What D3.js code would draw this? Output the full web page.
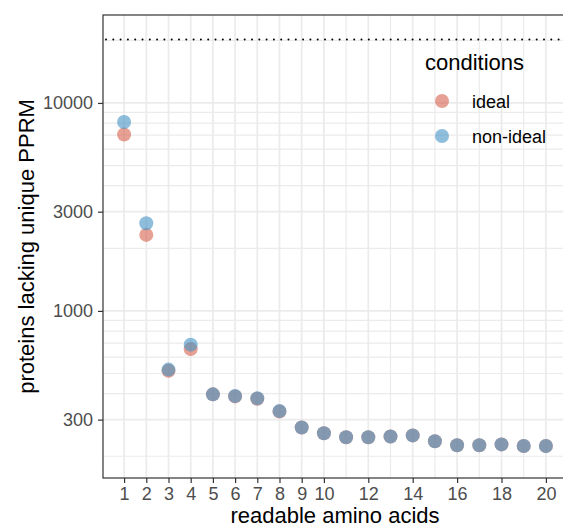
<!DOCTYPE html>
<html><head><meta charset="utf-8">
<script src="https://cdn.jsdelivr.net/npm/d3@7"></script>
<style>body{margin:0;background:#fff}svg{display:block;font-family:"Liberation Sans",Arial,Helvetica,sans-serif}</style>
</head><body><svg id="c" width="563" height="529"></svg>
<script>
const aminoAcids = [1,2,3,4,5,6,7,8,9,10,11,12,13,14,15,16,17,18,19,20];
const idealValues = [7050,2320,515,655,397,388,378,328,275,258,247,247,249,252,236,226,226,228,224,224];
const nonIdealValues = [8100,2640,522,688,397,390,380,330,275,258,247,247,249,252,236,226,226,228,224,224];
const totalProteins = 20200;
const xTickLabels = [1,2,3,4,5,6,7,8,9,10,12,14,16,18,20];
const yTickLabels = [300,1000,3000,10000];
const yMinorGrid = [200,400,500,600,700,800,900,2000,4000,5000,6000,7000,8000,9000,20000];
const conditions = ["ideal","non-ideal"];
const colors = {"ideal":"#D6604D","non-ideal":"#4393C3"};

const svg = d3.select("#c");
const L=103, R=567, T=15, B=478;
const x = d3.scaleLinear().domain([0.05,20.95]).range([L,R]);
const y = d3.scaleLog().domain([157.2,26480]).range([B,T]);

const g = svg.append("g");
g.selectAll(".hm").data(yMinorGrid).join("line")
  .attr("x1",L).attr("x2",R).attr("y1",d=>y(d)).attr("y2",d=>y(d))
  .attr("stroke","#EBEBEB").attr("stroke-width",1.2);
g.selectAll(".hM").data(yTickLabels).join("line")
  .attr("x1",L).attr("x2",R).attr("y1",d=>y(d)).attr("y2",d=>y(d))
  .attr("stroke","#EBEBEB").attr("stroke-width",1.7);
g.selectAll(".v").data(aminoAcids).join("line")
  .attr("y1",T).attr("y2",B).attr("x1",d=>x(d)).attr("x2",d=>x(d))
  .attr("stroke","#EBEBEB").attr("stroke-width",d=>xTickLabels.includes(d)?1.7:1.2);

g.append("line").attr("x1",L+3).attr("x2",R).attr("y1",y(totalProteins)).attr("y2",y(totalProteins))
  .attr("stroke","#000").attr("stroke-width",2).attr("stroke-dasharray","0,7.3").attr("stroke-linecap","round");

const series = [
  {name:"ideal", vals: idealValues},
  {name:"non-ideal", vals: nonIdealValues}
];
series.forEach(s=>{
  g.selectAll(null).data(aminoAcids).join("circle")
    .attr("cx",d=>x(d)).attr("cy",(d,i)=>y(s.vals[i])).attr("r",7)
    .attr("fill",colors[s.name]).attr("fill-opacity",0.6);
});

svg.append("rect").attr("x",L).attr("y",T).attr("width",R-L).attr("height",B-T)
  .attr("fill","none").attr("stroke","#333").attr("stroke-width",1.2);

const xa = svg.append("g").attr("transform",`translate(0,${B})`)
  .call(d3.axisBottom(x).tickValues(xTickLabels).tickSize(5).tickPadding(4).tickFormat(d3.format("d")));
const ya = svg.append("g").attr("transform",`translate(${L},0)`)
  .call(d3.axisLeft(y).tickValues(yTickLabels).tickSize(5).tickPadding(5).tickFormat(d3.format("d")));
[xa,ya].forEach(a=>{
  a.select(".domain").remove();
  a.selectAll(".tick line").attr("stroke","#333").attr("stroke-width",1.2);
  a.selectAll(".tick text").attr("fill","#4D4D4D").style("font-size","18px").style("font-family","inherit");
});

svg.append("text").attr("x",(L+R)/2).attr("y",523).attr("text-anchor","middle")
  .style("font-size","22px").attr("fill","#000").text("readable amino acids");
svg.append("text").attr("transform",`translate(34,${(T+B)/2}) rotate(-90)`).attr("text-anchor","middle")
  .style("font-size","22px").attr("fill","#000").text("proteins lacking unique PPRM");

const lg = svg.append("g");
lg.append("text").attr("x",425).attr("y",70).style("font-size","22px").attr("fill","#000").text("conditions");
conditions.forEach((c,i)=>{
  const yy = 101 + i*35;
  lg.append("circle").attr("cx",442).attr("cy",yy).attr("r",7).attr("fill",colors[c]).attr("fill-opacity",0.6);
  lg.append("text").attr("x",472).attr("y",yy+6.5).style("font-size","18px").attr("fill","#000").text(c);
});
</script></body></html>
